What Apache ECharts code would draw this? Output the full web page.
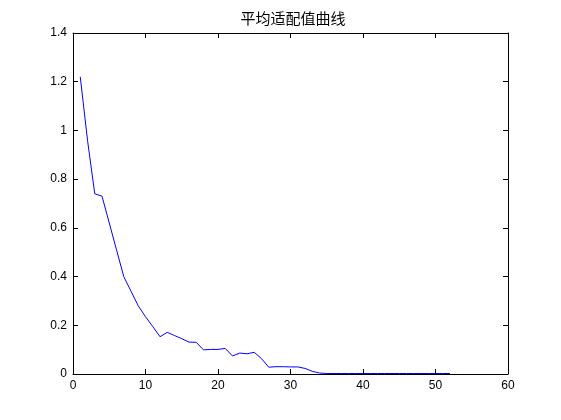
<!DOCTYPE html>
<html style="height: 100%">
    <head>
        <title>平均适配值曲线</title>
        <script type="text/javascript" src="https://fastly.jsdelivr.net/npm/echarts@6.0.0/dist/echarts.min.js"></script>
    </head>
    <body style="height: 100%; margin: 0; background: #fff">
        <div id="target" style="width: 561px; height: 420px"></div>

<script type="text/javascript">
// generation number
let generations = [
    1, 2, 3, 4, 5, 6, 7, 8, 9, 10,
    11, 12, 13, 14, 15, 16, 17, 18, 19, 20,
    21, 22, 23, 24, 25, 26, 27, 28, 29, 30,
    31, 32, 33, 34, 35, 36, 37, 38, 39, 40,
    41, 42, 43, 44, 45, 46, 47, 48, 49, 50,
    51, 52,
];

// average fitness
let avgFitness = [
    1.22, 0.96, 0.74, 0.73, 0.62, 0.51, 0.40, 0.34, 0.28, 0.235,
    0.195, 0.153, 0.171, 0.158, 0.145, 0.131, 0.130, 0.099, 0.101, 0.101,
    0.105, 0.074, 0.086, 0.083, 0.089, 0.063, 0.028, 0.030, 0.030, 0.029,
    0.029, 0.023, 0.011, 0.004, 0.002, 0.002, 0.002, 0.002, 0.002, 0.002,
    0.002, 0.002, 0.002, 0.002, 0.002, 0.002, 0.002, 0.002, 0.002, 0.002,
    0.002, 0.002,
];

let titleText = "平均适配值曲线";

let chart = echarts.init(document.getElementById('target'));

let tickFont = {
    color: "#000",
    fontFamily: "Liberation Sans, Arial, sans-serif",
    fontSize: 12,
};

// MATLAB style box: ticks pointing in on all four sides
let MakeAxis = (position, min, max, interval, showLabel, fmt) => {
    return {
        type: "value",
        position: position,
        min: min,
        max: max,
        interval: interval,
        axisLine: { show: true, onZero: false, lineStyle: { color: "#000", width: 1 } },
        axisTick: { show: true, inside: true, length: 5, lineStyle: { color: "#000" } },
        axisLabel: Object.assign({ show: showLabel, margin: 6, formatter: fmt }, tickFont),
        splitLine: { show: false },
    };
};

let data = generations.map((g, i) => [g, avgFitness[i]]);

let option = {
    animation: false,
    title: {
        text: titleText,
        left: 288,
        textAlign: "center",
        top: 6,
        textStyle: {
            color: "#000",
            fontWeight: "normal",
            fontSize: 15,
            fontFamily: "Noto Sans CJK SC",
        },
    },
    grid: {
        left: 73,
        right: 53,
        top: 33,
        bottom: 46,
    },
    xAxis: [
        MakeAxis("bottom", 0, 60, 10, true, v => v.toString()),
        MakeAxis("top", 0, 60, 10, false),
    ],
    yAxis: [
        MakeAxis("left", 0, 1.4, 0.2, true, v => (Math.round(v * 10) / 10).toString()),
        MakeAxis("right", 0, 1.4, 0.2, false),
    ],
    series: [
        {
            type: "line",
            data: data,
            xAxisIndex: 0,
            yAxisIndex: 0,
            showSymbol: false,
            lineStyle: { color: "#0000ff", width: 1 },
        },
    ],
};

chart.setOption(option);
</script>
    </body>
</html>
